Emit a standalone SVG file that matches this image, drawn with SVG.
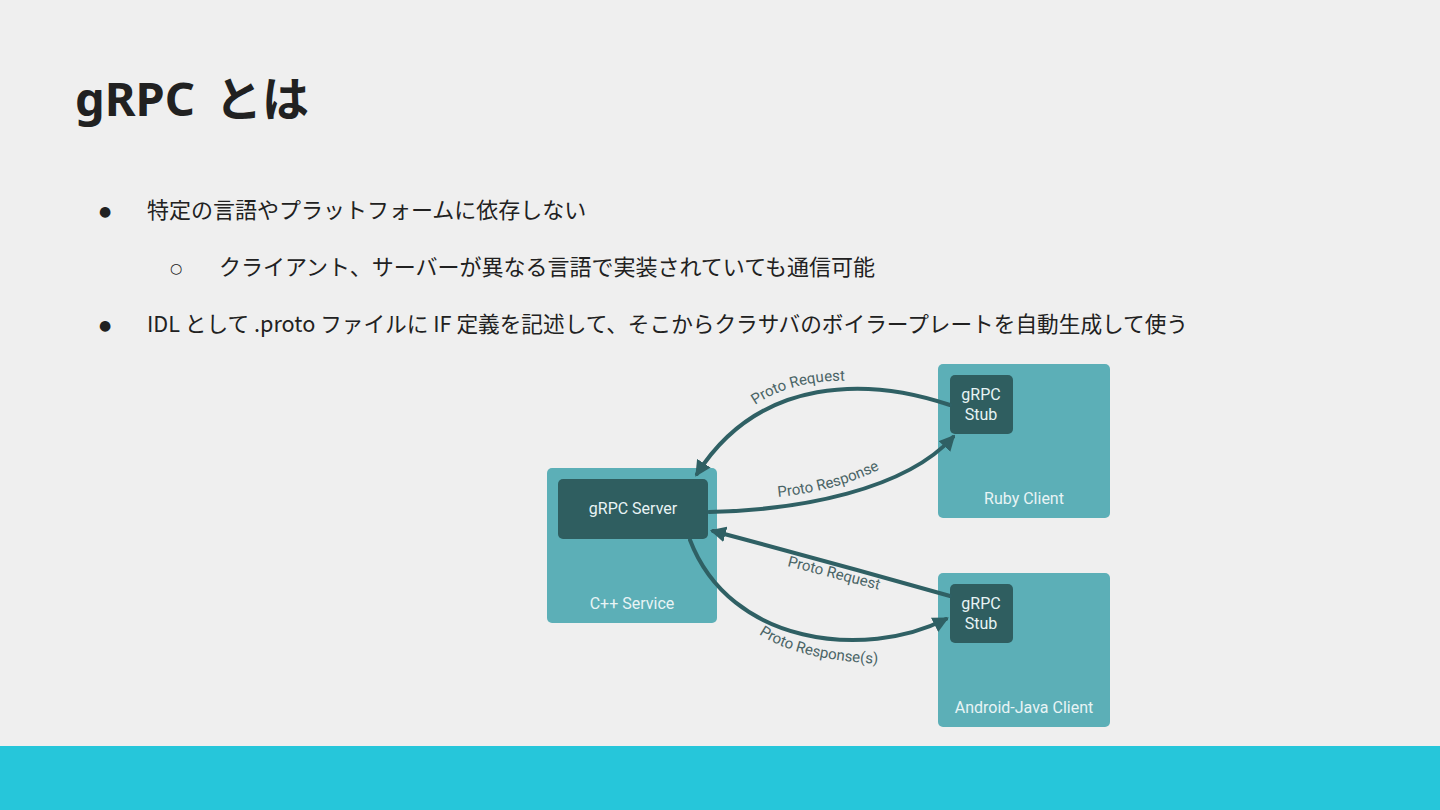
<svg xmlns="http://www.w3.org/2000/svg" width="1440" height="810" viewBox="0 0 1440 810">
<style>
.title{font-family:"Noto Sans","Noto Sans CJK JP",sans-serif;font-weight:700;font-size:47px;fill:#212121;word-spacing:8px}
.body{font-family:"Noto Sans CJK JP",sans-serif;font-size:22px;fill:#212121}
.bul{font-family:"DejaVu Sans",sans-serif;font-size:14px;fill:#212121}
.box{fill:#5cafb7}
.inner{fill:#2f5e60}
.lbl{font-family:Roboto,"Liberation Sans",sans-serif;font-size:16px;fill:#e8f4f5;text-anchor:middle}
.edge{fill:none;stroke:#2f6064;stroke-width:4;stroke-linecap:round}
.elbl{font-family:Roboto,"Liberation Sans",sans-serif;font-size:15px;fill:#4a6466}
</style>
<defs>
<marker id="ah" viewBox="0 0 10 10" refX="8" refY="5" markerWidth="4" markerHeight="4" orient="auto" markerUnits="strokeWidth">
<path d="M0,0 L10,5 L0,10 z" fill="#2f6064"/>
</marker>
<path id="p1" d="M755,405 Q795,378 856,381"/>
<path id="p2" d="M778,497 Q840,491 888,465"/>
<path id="p3" d="M787,566 L887,592"/>
<path id="p4" d="M759,634 Q800,662 890,664"/>
</defs>
<rect width="1440" height="810" fill="#efefef"/>
<rect x="0" y="746" width="1440" height="64" fill="#26c6da"/>
<text class="title" x="75" y="116">gRPC とは</text>
<text class="bul" x="99" y="216">●</text>
<text class="body" x="147" y="218">特定の言語やプラットフォームに依存しない</text>
<text class="bul" x="170" y="273">○</text>
<text class="body" x="219" y="275">クライアント、サーバーが異なる言語で実装されていても通信可能</text>
<text class="bul" x="99" y="330">●</text>
<text class="body" x="147" y="332" textLength="1041" lengthAdjust="spacingAndGlyphs">IDL として .proto ファイルに IF 定義を記述して、そこからクラサバのボイラープレートを自動生成して使う</text>
<g id="cpp-service">
<rect class="box" x="547" y="468" width="170" height="155" rx="5"/>
<text class="lbl" x="632" y="609">C++ Service</text>
</g>
<g id="grpc-server">
<rect class="inner" x="558" y="479" width="150" height="60" rx="5"/>
<text class="lbl" x="633" y="514">gRPC Server</text>
</g>
<g id="ruby-client">
<rect class="box" x="938" y="364" width="172" height="154" rx="5"/>
<text class="lbl" x="1024" y="504">Ruby Client</text>
</g>
<g id="ruby-stub">
<rect class="inner" x="950" y="375" width="63" height="59" rx="5"/>
<text class="lbl" x="981" y="400">gRPC</text>
<text class="lbl" x="981" y="420">Stub</text>
</g>
<g id="android-client">
<rect class="box" x="938" y="573" width="172" height="154" rx="5"/>
<text class="lbl" x="1024" y="713">Android-Java Client</text>
</g>
<g id="android-stub">
<rect class="inner" x="950" y="584" width="63" height="59" rx="5"/>
<text class="lbl" x="981" y="609">gRPC</text>
<text class="lbl" x="981" y="629">Stub</text>
</g>
<g id="connectors">
<path class="edge" d="M950,405 C870,378 760,375 697,474" marker-end="url(#ah)"/>
<path class="edge" d="M709,512 C800,510 905,490 953,437" marker-end="url(#ah)"/>
<path class="edge" d="M950,596 Q830,562 713,531" marker-end="url(#ah)"/>
<path class="edge" d="M690,540 C730,645 865,660 946,619" marker-end="url(#ah)"/>
<text class="elbl"><textPath href="#p1">Proto Request</textPath></text>
<text class="elbl"><textPath href="#p2">Proto Response</textPath></text>
<text class="elbl"><textPath href="#p3">Proto Request</textPath></text>
<text class="elbl"><textPath href="#p4">Proto Response(s)</textPath></text>
</g>
</svg>
